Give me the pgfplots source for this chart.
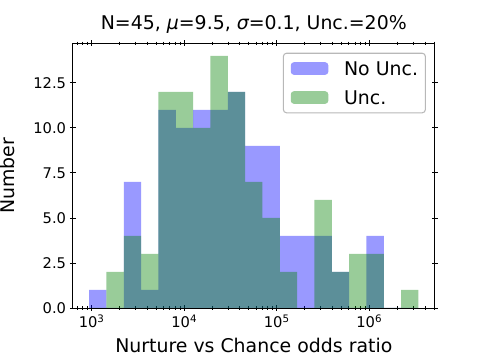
\documentclass[border=0pt]{standalone}
\usepackage{fontspec}
\setmainfont{DejaVu Sans}
\usepackage{pgfplots}
\pgfplotsset{compat=1.18}
\definecolor{mplblue}{rgb}{0,0,1}
\definecolor{mplgreen}{rgb}{0,0.5,0}
\definecolor{legedge}{rgb}{0.72,0.72,0.72}
\begin{document}
\begin{tikzpicture}
\useasboundingbox (-69.2pt,-52.4pt) rectangle (391.75pt,293.3pt);
\begin{axis}[
  at={(0,0)}, anchor=south west,
  scale only axis, width=345pt, height=252.1pt,
  xmode=log,
  xmin=623.3, xmax=5.122e6,
  ymin=0, ymax=14.7,
  axis line style={line width=0.8pt},
  tick style={line width=0.8pt, black},
  tick align=center,
  major tick length=5.5pt,
  minor tick length=3pt,
  xtick={1e3,1e4,1e5,1e6},
  xticklabels={10\textsuperscript{3},10\textsuperscript{4},10\textsuperscript{5},10\textsuperscript{6}},
  minor xtick={700,800,900,2000,3000,4000,5000,6000,7000,8000,9000,20000,30000,40000,50000,60000,70000,80000,90000,2e5,3e5,4e5,5e5,6e5,7e5,8e5,9e5,2e6,3e6,4e6,5e6},
  ytick={0,2.5,5,7.5,10,12.5},
  yticklabels={0.0,2.5,5.0,7.5,10.0,12.5},
  ticklabel style={font=\fontsize{14}{16}\selectfont},
  title={N=45, {\itshape μ}=9.5, {\itshape σ}=0.1, Unc.=20\%},
  title style={at={(axis description cs:0.5,1.0295)}, anchor=base, font=\fontsize{18}{21}\selectfont},
  xlabel={Nurture vs Chance odds ratio},
  xlabel style={at={(axis description cs:0.5,-0.1689)}, anchor=base, font=\fontsize{18}{21}\selectfont},
  ylabel={Number},
  ylabel style={at={(axis description cs:-0.1593,0.5)}, anchor=base, font=\fontsize{18}{21}\selectfont},
  legend cell align=left,
  legend image code/.code={\fill[#1] (0pt,-6pt) rectangle (35.8pt,6pt);},
  legend style={at={(axis description cs:1,1)}, anchor=north east, xshift=-8.6pt, yshift=-9pt,
    draw=legedge, line width=1pt, rounded corners=3pt, fill=white,
    inner xsep=7pt, inner ysep=8pt, row sep=14.5pt,
    font=\fontsize{18}{21}\selectfont,
    nodes={inner sep=0pt, text depth=0pt},
    /tikz/every odd column/.append style={column sep=15pt}},
]
\addplot[ybar interval, fill=mplblue, fill opacity=0.4, draw=none] table {
x y
938.9 1
1445.4 0
2224.5 7
3423.8 1
5270.5 11
8112.5 10
12486 11
19221 11
29586 12
45540 9
70097 9
107890 4
166080 4
255630 4
393500 2
605690 0
932350 4
1435100 0
2209000 0
3400100 0
};
\addlegendentry{No Unc.}
\addplot[ybar interval, fill=mplgreen, fill opacity=0.4, draw=none] table {
x y
938.9 0
1445.4 2
2224.5 4
3423.8 3
5270.5 12
8112.5 12
12486 10
19221 14
29586 12
45540 7
70097 5
107890 2
166080 0
255630 6
393500 2
605690 3
932350 3
1435100 0
2209000 1
3400100 1
};
\addlegendentry{Unc.}
\end{axis}
\end{tikzpicture}
\end{document}
